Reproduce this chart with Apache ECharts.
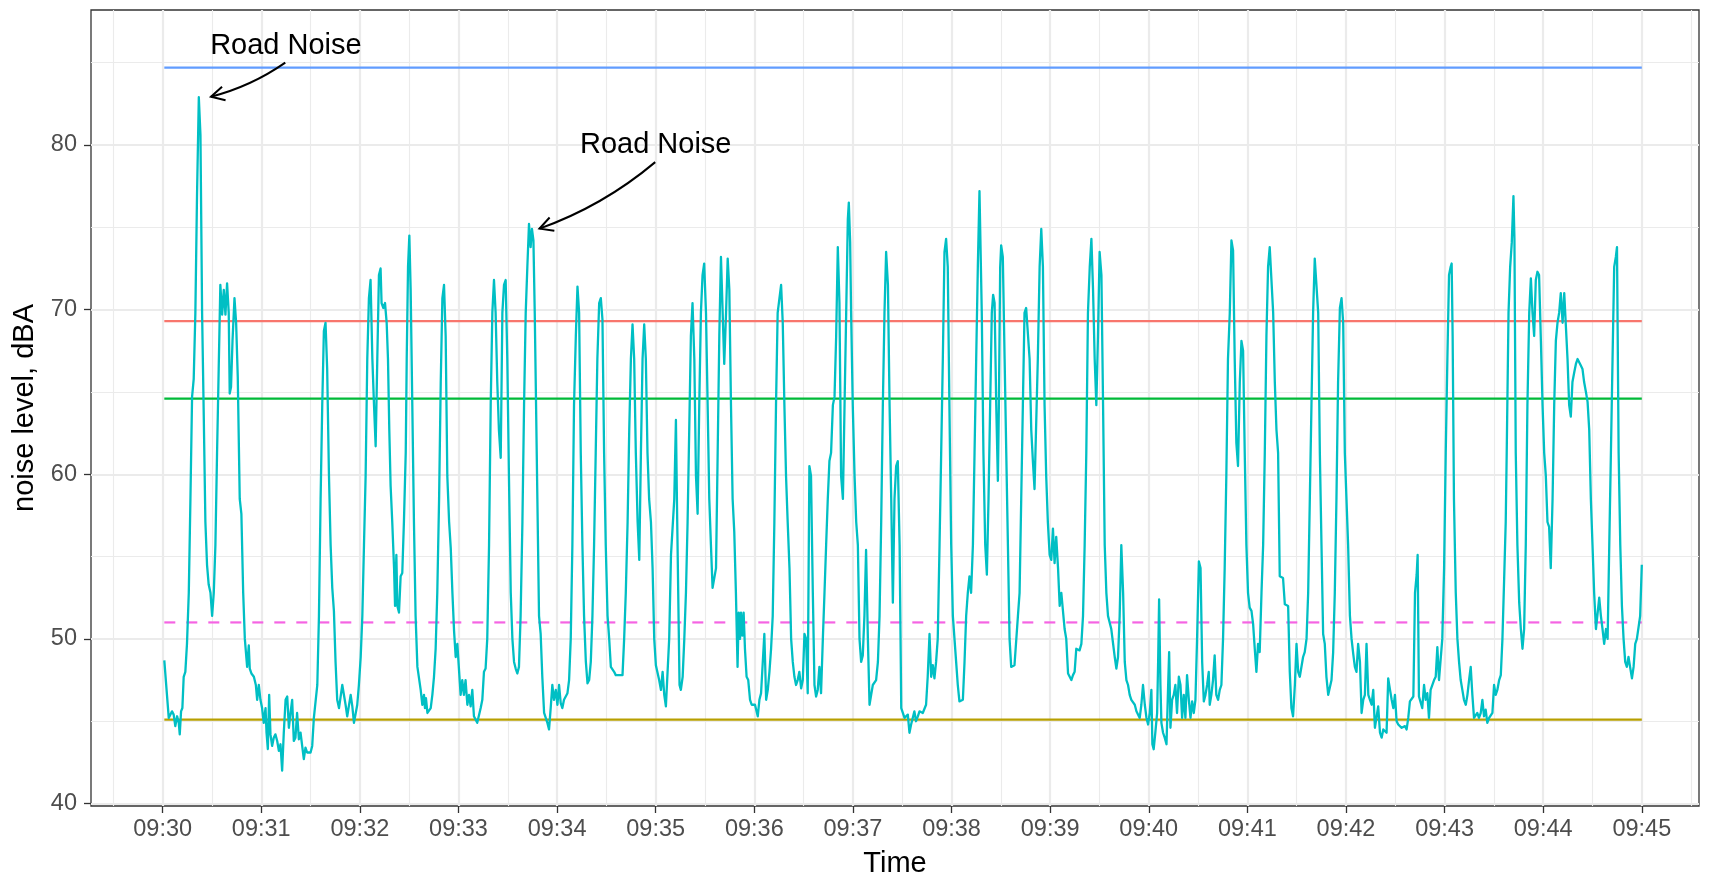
<!DOCTYPE html>
<html><head><meta charset="utf-8">
<script src="https://cdn.jsdelivr.net/npm/echarts@6/dist/echarts.min.js"></script>
<style>html,body{margin:0;padding:0;background:#fff}#c{width:1715px;height:875px}</style>
</head><body><div id="c"></div>
<script>
// seconds after 09:30:00
const secs = [1.0,3.7,4.7,5.7,6.7,7.7,8.8,9.8,10.4,11.2,12.0,12.8,13.8,14.8,15.9,16.9,17.9,18.9,19.9,20.9,22.0,23.0,24.0,25.0,26.0,27.0,28.0,29.1,30.1,31.1,32.1,33.1,34.1,35.1,36.2,37.2,38.2,39.2,40.2,40.8,41.6,42.5,43.7,44.7,45.7,46.9,47.9,49.0,50.0,51.4,52.4,53.0,54.0,55.5,56.7,57.5,58.5,59.5,60.5,61.5,62.6,63.2,64.0,64.8,65.6,66.6,67.6,68.6,69.7,70.7,71.7,72.7,73.7,74.8,75.8,76.8,77.8,78.8,79.8,80.8,81.8,82.9,83.9,84.9,85.9,86.9,87.9,88.9,90.0,91.0,92.0,93.0,94.1,95.1,96.1,97.1,98.1,99.1,100.1,101.2,102.2,103.2,104.2,105.2,106.2,107.3,108.3,109.3,110.3,111.3,112.3,113.3,114.4,115.4,116.4,117.4,118.4,119.4,120.5,121.5,122.5,123.5,124.5,125.5,126.5,127.6,128.6,129.6,130.6,131.6,132.6,133.2,134.3,135.3,136.3,137.1,137.9,138.7,139.7,140.8,141.4,142.2,142.8,143.8,144.8,145.8,146.8,147.9,148.5,149.3,150.1,150.9,151.9,152.9,153.9,155.0,156.0,157.0,158.0,159.0,159.6,160.2,161.1,162.1,163.1,164.1,165.1,166.1,167.1,168.2,169.2,170.2,171.2,172.2,173.2,174.3,175.3,176.3,177.3,178.3,179.3,180.3,181.3,182.3,183.3,184.3,185.4,186.4,187.4,188.4,189.4,190.4,191.4,192.4,193.5,194.5,195.5,196.5,197.5,198.6,199.6,200.6,201.6,202.6,203.6,204.6,205.7,206.7,207.7,208.7,209.7,210.7,211.8,212.8,213.8,214.8,215.8,216.8,217.8,218.9,219.9,220.9,221.9,222.9,223.9,224.7,225.6,226.4,227.2,228.0,229.0,230.0,231.0,232.1,233.1,234.1,235.1,236.1,237.1,238.1,239.2,240.2,241.2,242.2,243.2,244.2,245.2,246.3,247.3,248.3,249.3,250.3,251.4,252.4,253.4,254.4,255.4,256.4,257.5,258.5,259.5,260.5,261.5,262.5,263.5,264.5,265.6,266.6,267.6,268.6,269.6,270.7,271.7,272.7,273.7,274.7,275.7,276.8,277.8,278.8,279.8,280.8,281.8,282.9,283.9,284.9,285.9,286.9,287.9,289.0,290.0,291.0,292.0,293.0,294.0,295.0,296.0,297.1,298.1,299.1,300.1,301.1,302.1,303.2,304.2,305.2,306.2,307.2,308.2,309.3,310.3,311.3,312.3,312.9,313.7,314.5,315.3,316.4,317.4,318.4,319.4,320.4,321.4,322.4,323.5,324.5,325.5,326.5,327.5,328.5,329.5,330.6,331.6,332.6,333.6,334.6,335.6,336.7,337.7,338.7,339.7,340.7,341.7,342.8,343.8,344.8,345.8,346.8,347.8,348.8,349.8,350.5,351.3,351.9,352.7,353.5,354.3,355.3,356.3,357.4,358.4,359.4,360.4,361.0,362.1,363.1,364.1,365.1,366.1,367.2,368.2,369.2,370.2,371.2,372.2,373.2,374.2,375.3,376.3,377.3,378.3,379.3,380.3,381.4,382.4,383.4,384.4,385.4,386.4,387.4,388.5,389.5,390.5,391.5,392.5,393.5,394.5,395.6,396.6,397.6,398.6,399.6,400.6,401.7,402.7,403.7,404.7,405.7,406.7,407.8,408.8,409.8,410.8,411.8,412.8,413.9,414.9,415.9,416.9,417.5,418.3,418.9,419.9,421.0,422.0,423.0,424.0,425.0,426.0,427.0,428.0,429.1,430.1,431.1,432.1,433.1,434.1,435.2,436.2,437.2,438.2,439.2,440.2,441.3,442.3,443.3,444.3,445.3,446.3,447.3,448.4,449.4,450.4,451.4,452.4,453.4,454.4,455.4,456.4,457.4,458.4,459.5,460.5,461.5,462.5,463.5,464.5,465.5,466.6,467.6,468.6,469.6,470.6,471.6,472.7,473.7,474.7,475.7,476.7,477.7,478.7,479.8,480.8,481.8,482.8,483.8,484.8,485.9,486.9,487.9,488.9,489.9,490.9,491.9,493.0,494.0,495.0,496.0,497.0,497.6,498.4,499.4,500.5,501.5,502.5,503.5,504.5,505.3,506.2,507.2,508.2,508.8,509.6,510.2,511.2,512.3,513.3,514.3,515.3,516.3,517.3,518.3,519.4,520.4,521.4,522.4,523.4,524.4,525.4,526.5,527.5,528.5,529.5,530.5,531.5,532.5,533.6,534.6,535.6,536.6,537.6,538.6,539.7,540.7,541.7,542.7,543.7,544.8,545.8,546.8,547.8,548.8,549.8,550.9,551.9,552.9,553.9,554.9,555.9,556.9,557.9,559.0,560.0,561.0,562.0,563.0,564.1,565.1,566.1,567.1,568.1,569.1,570.1,571.2,572.2,573.2,574.2,575.2,576.2,577.2,578.2,579.3,580.3,581.3,582.3,583.3,584.4,585.4,586.4,587.4,588.4,589.4,590.5,591.5,592.5,593.5,594.5,595.5,596.5,597.6,598.6,599.6,600.6,601.6,602.2,603.0,604.0,605.1,605.7,606.3,607.1,607.7,608.7,609.7,610.8,611.8,612.4,613.2,614.2,615.2,616.2,617.2,618.3,619.3,620.3,621.3,622.3,623.3,624.4,625.4,626.4,627.4,628.4,629.4,630.5,631.5,632.5,633.5,634.5,635.5,636.5,637.1,638.1,639.1,640.1,641.1,642.2,643.2,644.2,645.2,646.2,647.2,648.2,649.3,650.3,651.3,652.3,653.3,654.3,655.4,656.4,657.4,658.4,659.4,660.4,661.4,662.5,663.5,664.5,665.5,666.5,667.5,668.6,669.6,670.6,671.6,672.6,673.6,674.7,675.7,676.7,677.7,678.7,679.7,680.7,681.7,682.8,683.8,684.8,685.8,686.8,687.8,688.9,689.9,690.9,691.9,692.9,693.9,694.9,696.0,697.0,698.0,699.0,700.0,701.0,702.1,703.1,704.1,705.1,706.1,707.1,708.1,709.2,710.2,711.2,712.2,713.2,714.2,715.2,716.3,717.3,718.3,719.3,720.3,721.3,722.4,723.4,724.4,725.4,726.4,727.4,728.5,729.5,730.5,731.5,732.5,733.6,734.6,735.6,736.6,737.6,738.6,739.6,740.7,741.7,742.7,743.7,744.7,745.7,746.8,747.8,748.8,749.8,750.8,751.8,752.8,753.9,754.9,755.9,756.9,757.9,758.9,759.9,761.0,762.0,763.0,763.6,764.4,765.4,766.4,767.5,768.5,769.5,770.5,771.5,772.5,773.6,774.6,775.6,776.6,777.6,778.6,779.7,780.7,781.7,782.7,783.7,784.3,784.9,785.7,786.8,787.8,788.8,789.8,790.8,791.8,792.9,793.9,794.9,795.9,796.9,797.9,798.9,799.9,800.9,802.0,803.0,804.0,805.0,806.0,807.1,808.1,809.1,810.1,811.1,812.1,813.2,814.2,815.2,816.2,817.2,817.8,818.9,819.9,820.9,821.9,822.5,823.3,824.3,825.4,826.4,827.4,828.4,829.4,830.4,831.5,832.5,833.5,834.5,835.5,836.5,837.5,838.6,839.6,840.6,841.6,842.6,843.6,844.6,845.7,846.7,847.7,848.7,849.7,850.7,851.8,852.8,853.8,854.8,855.8,856.8,857.8,858.9,859.9,860.9,861.9,862.9,863.9,864.9,866.0,867.0,868.0,869.0,870.0,871.0,872.1,873.1,874.1,875.1,876.1,877.1,878.2,879.2,880.2,881.2,882.2,883.2,884.2,884.9,885.9,886.9,887.9,888.9,889.9,890.9,891.9,892.9,894.0,895.0,896.0,897.0,898.1,899.0,900.0];
const dba = [48.7,45.2,45.3,45.6,45.4,44.7,45.3,44.9,44.2,45.6,45.8,47.7,48.0,49.7,52.8,58.5,64.7,65.8,69.8,76.9,82.9,80.6,69.8,63.6,57.1,54.5,53.3,52.8,51.4,52.8,55.7,61.3,66.4,71.5,69.7,71.2,69.7,71.6,69.8,64.9,65.3,68.1,70.7,69.2,65.9,58.5,57.6,52.8,50.0,48.3,49.6,48.2,47.9,47.7,47.2,46.3,47.2,46.3,45.8,44.9,45.8,44.3,43.3,46.6,44.2,43.5,44.0,44.2,43.8,43.2,43.6,42.0,44.3,46.3,46.5,44.6,45.5,46.3,43.8,44.0,45.5,43.9,44.3,44.2,42.7,43.4,43.1,43.2,43.1,43.5,45.2,45.3,47.2,51.4,58.5,64.2,68.7,69.2,66.4,59.9,55.7,53.1,51.7,48.6,46.3,45.8,45.9,47.2,47.3,46.0,45.3,45.4,46.6,45.9,44.9,44.8,46.0,47.2,48.9,51.4,55.7,59.9,67.0,70.7,71.8,67.0,64.2,61.7,67.0,72.1,72.5,70.4,70.1,70.4,69.2,67.0,62.7,59.3,57.1,54.3,52.0,55.1,52.0,51.6,53.8,54.0,57.1,61.3,67.0,72.6,74.5,71.2,64.2,57.1,51.4,48.3,48.2,46.9,46.0,46.6,45.8,46.4,45.5,45.6,45.8,46.6,47.7,49.4,52.8,58.5,65.6,70.7,71.5,68.4,59.9,57.1,55.5,52.8,50.5,48.9,49.7,49.7,46.6,47.5,46.6,47.5,46.0,46.6,45.9,46.9,45.3,45.3,44.9,45.0,45.8,46.3,48.0,48.2,50.0,55.7,64.2,69.8,71.8,69.8,65.6,62.7,61.0,69.8,71.5,71.8,67.0,59.9,52.8,50.0,48.6,48.2,47.9,48.3,51.4,57.1,64.2,69.8,72.6,75.2,73.8,74.9,74.2,69.8,64.2,58.5,51.4,50.3,47.7,45.5,45.4,44.9,44.5,45.8,47.2,46.3,46.9,46.0,47.2,46.1,45.8,46.3,46.4,46.7,47.5,50.0,55.7,64.2,68.4,71.4,69.8,61.3,55.7,51.4,48.6,47.3,47.5,48.6,51.4,55.7,61.3,67.0,70.4,70.7,69.4,61.3,55.7,51.4,50.0,48.3,48.2,48.0,47.8,47.7,47.8,47.7,47.8,50.0,52.8,57.1,62.7,67.0,69.1,67.0,61.3,57.1,54.8,61.3,67.0,69.1,67.0,61.3,58.5,57.1,54.3,50.0,48.4,48.3,47.5,46.9,48.0,46.6,45.9,45.9,50.0,55.1,55.2,58.5,63.3,58.5,52.8,47.2,46.9,47.7,50.0,52.8,57.1,62.7,68.4,70.4,67.0,59.9,57.6,64.2,69.8,72.1,72.8,69.8,64.2,58.5,55.7,53.1,53.1,54.3,61.3,68.4,73.2,73.1,66.7,69.8,73.1,71.2,64.2,58.5,56.5,52.8,48.3,51.6,50.0,51.6,50.2,51.6,49.4,47.7,47.5,46.3,46.0,45.9,46.0,45.9,45.3,46.3,46.7,46.6,50.3,46.3,46.9,48.0,49.4,51.4,57.1,64.2,69.8,70.7,71.5,69.2,64.2,59.9,57.1,54.3,50.0,48.6,47.7,47.2,47.5,48.0,47.0,47.5,50.3,50.0,46.7,60.5,59.9,52.8,47.2,46.5,46.9,48.3,46.7,50.0,52.8,55.7,58.5,60.8,61.3,64.2,64.7,68.4,73.8,70.4,59.9,58.5,64.2,69.8,75.5,76.5,74.1,69.8,64.2,59.9,57.1,55.7,50.0,48.6,49.0,51.4,55.4,50.0,46.0,46.6,47.2,47.2,47.5,48.6,51.4,57.1,64.2,69.8,73.5,71.5,64.2,58.5,52.2,58.5,60.5,60.8,55.7,45.8,45.7,45.2,45.1,45.4,44.3,44.8,44.9,45.6,45.0,45.3,45.6,45.5,45.5,45.6,46.0,47.7,50.3,47.7,48.4,47.6,48.6,50.0,55.7,61.3,67.0,73.5,74.3,72.6,64.2,55.7,51.4,50.0,48.6,47.2,46.2,46.2,46.3,48.6,51.4,52.8,53.8,52.8,55.7,61.3,67.0,72.6,77.2,77.2,69.8,61.3,55.7,53.9,58.5,64.2,69.8,70.9,70.4,64.2,59.6,64.2,72.6,73.9,73.2,67.0,61.3,55.7,50.0,48.3,48.2,48.4,48.3,51.4,52.8,58.5,64.2,69.8,70.1,70.2,67.0,62.7,60.8,59.1,59.1,67.0,72.6,74.9,72.6,64.2,59.9,57.1,55.1,54.8,56.7,54.6,56.2,54.3,52.0,52.8,52.7,50.6,50.0,47.9,47.8,47.5,47.8,48.0,49.4,49.4,49.3,49.7,51.4,55.7,61.3,69.8,72.6,74.3,71.2,67.0,64.2,68.4,73.5,72.1,64.2,55.7,52.8,51.4,51.0,50.6,50.5,48.9,48.2,48.9,51.4,55.7,52.8,48.6,47.5,47.2,46.6,46.3,46.2,46.0,45.6,45.5,45.2,46.0,47.2,46.0,45.2,44.8,45.5,46.9,43.6,43.3,44.3,45.5,48.6,52.4,47.2,44.9,44.3,44.0,43.6,47.2,49.2,44.6,46.3,46.6,47.2,45.5,47.7,47.2,45.2,46.6,45.2,47.8,46.3,45.2,46.2,45.5,46.3,50.0,54.7,54.3,48.6,46.2,46.6,47.2,48.0,46.0,46.6,47.5,49.0,46.6,46.3,46.9,47.2,50.0,54.3,59.9,67.0,69.8,74.2,73.6,67.0,61.9,60.5,65.6,68.1,67.5,61.3,55.7,52.8,51.9,51.7,50.9,49.4,48.0,49.7,49.2,52.8,55.7,61.3,68.4,72.6,73.8,73.9,69.8,65.6,62.7,61.3,53.8,53.8,53.7,52.1,52.0,52.0,48.0,45.8,45.3,47.2,49.7,48.0,47.7,47.8,48.9,49.2,50.0,52.8,58.5,64.2,69.8,73.1,73.0,69.8,61.3,55.7,50.3,49.7,47.7,46.6,46.6,47.5,49.2,52.8,58.5,65.6,70.1,70.7,69.2,61.3,58.5,55.7,51.4,50.0,49.1,48.3,48.0,49.7,48.6,45.5,46.3,46.6,49.7,46.6,46.3,46.0,46.9,44.6,44.5,45.9,44.3,44.0,44.5,44.5,44.3,47.6,46.9,46.3,45.8,46.6,45.0,44.8,44.9,44.6,44.7,44.7,44.5,45.2,46.2,46.3,46.5,52.8,53.9,55.1,46.5,46.5,45.8,47.2,46.3,46.7,45.2,46.9,46.9,47.5,47.7,49.5,47.5,47.5,50.0,54.3,61.3,67.0,72.1,72.6,72.8,68.4,58.5,52.8,50.0,48.6,47.5,46.9,46.3,46.0,46.6,47.5,48.3,46.6,45.2,45.1,45.5,45.2,45.5,46.3,45.3,45.7,44.9,45.2,45.2,45.5,47.2,46.6,46.9,47.5,47.8,50.0,53.5,57.1,61.3,69.8,72.6,74.1,76.9,74.3,61.3,55.7,52.2,50.6,49.4,50.6,55.7,64.2,69.8,71.9,69.8,68.4,71.8,72.3,72.1,68.1,64.2,61.3,59.9,57.1,56.8,54.3,58.5,64.2,68.1,69.2,69.8,71.0,69.2,71.0,70.9,67.0,64.2,63.5,65.6,66.2,66.7,67.0,67.1,66.6,66.4,65.6,65.0,64.4,62.7,58.5,55.7,52.8,50.6,50.5,52.5,51.4,50.6,49.7,50.6,50.0,55.7,61.3,67.0,72.6,73.2,73.8,61.3,55.7,52.0,50.0,48.6,48.3,48.9,48.8,47.6,48.3,49.7,50.0,50.0,51.4,54.5];

const tickSecs = [0,60,120,180,240,300,360,420,480,540,600,660,720,780,840,900];
const tickLabels = ["09:30","09:31","09:32","09:33","09:34","09:35","09:36","09:37","09:38","09:39","09:40","09:41","09:42","09:43","09:44","09:45"];
const minorSecs = [-30,30,90,150,210,270,330,390,450,510,570,630,690,750,810,870,930];
const yTicks = [40,50,60,70,80];
const yMinorTicks = [45,55,65,75,85];

const refLevels = [84.7, 69.3, 64.6, 51.0, 45.1];
const refColors = ['#619CFF','#F8766D','#00BA38','#F564E3','#B79F00'];
const refDashed = [false,false,false,true,false];
const refStartSec = 1, refEndSec = 900;

const annotLabels = ['Road Noise','Road Noise'];
const annotX = [75, 300];
const annotY = [86.0, 80.0];
const arrowFromX = [74.6, 299.7];
const arrowFromY = [85.0, 78.96];
const arrowToX = [29.4, 229.3];
const arrowToY = [82.93, 74.92];

const FONT = 'Liberation Sans';
const X_MIN = -43.6, X_MAX = 934.8, Y_MIN = 39.85, Y_MAX = 88.2;

const chart = echarts.init(document.getElementById('c'), null, {renderer:'canvas'});

const series = [];
refLevels.forEach((v,i)=>{
  series.push({
    type:'line', xAxisIndex:0, yAxisIndex:0, symbol:'none', silent:true, z:2,
    data:[[refStartSec, v],[refEndSec, v]],
    lineStyle:{color:refColors[i], width:2.2, type: refDashed[i] ? [11,11] : 'solid'}
  });
});
series.push({
  type:'line', xAxisIndex:0, yAxisIndex:0, symbol:'none', silent:true, z:3,
  data: secs.map((s,i)=>[s, dba[i]]),
  lineStyle:{color:'#00BFC4', width:2.3, join:'round'}
});
series.push({
  type:'custom', xAxisIndex:0, yAxisIndex:0, silent:true, z:5, clip:false,
  data: annotLabels.map((l,i)=>[annotX[i], annotY[i], arrowFromX[i], arrowFromY[i], arrowToX[i], arrowToY[i]]),
  renderItem: function(params, api){
    const i = params.dataIndex;
    const t = api.coord([api.value(0), api.value(1)]);
    const s = api.coord([api.value(2), api.value(3)]);
    const e = api.coord([api.value(4), api.value(5)]);
    const dx = e[0]-s[0], dy = e[1]-s[1];
    const k = 0.09;
    const cp = [(s[0]+e[0])/2 + k*dy, (s[1]+e[1])/2 - k*dx];
    const tx = e[0]-cp[0], ty = e[1]-cp[1];
    const tl = Math.hypot(tx,ty);
    const ux = tx/tl, uy = ty/tl;
    const L = 15, a = 28*Math.PI/180;
    const rot = (ang)=>[ -(ux*Math.cos(ang) - uy*Math.sin(ang))*L, -(ux*Math.sin(ang) + uy*Math.cos(ang))*L ];
    const p1 = rot(a), p2 = rot(-a);
    return {
      type:'group',
      children:[
        {type:'text', style:{text: annotLabels[i], x:t[0], y:t[1], fill:'#000', fontSize:29, fontFamily:FONT, align:'center', verticalAlign:'middle'}},
        {type:'bezierCurve', shape:{x1:s[0], y1:s[1], x2:e[0], y2:e[1], cpx1:cp[0], cpy1:cp[1]}, style:{stroke:'#000', lineWidth:2, fill:null}},
        {type:'polyline', shape:{points:[[e[0]+p1[0], e[1]+p1[1]], [e[0], e[1]], [e[0]+p2[0], e[1]+p2[1]]]}, style:{stroke:'#000', lineWidth:2, fill:null}}
      ]
    };
  }
});

const gridLine = '#EBEBEB';
const option = {
  animation:false,
  backgroundColor:'#fff',
  grid:{left:91, top:10, width:1608, height:796, show:true, borderColor:'#333333', borderWidth:1.3, backgroundColor:'transparent', containLabel:false, outerBoundsMode:'none'},
  xAxis:[
    {type:'value', min:X_MIN, max:X_MAX, position:'bottom',
     name:'Time', nameLocation:'middle', nameGap:43,
     nameTextStyle:{color:'#000', fontSize:29, fontFamily:FONT},
     axisLine:{show:false, onZero:false},
     axisTick:{show:true, length:7, customValues:tickSecs, lineStyle:{color:'#333333', width:1.3}},
     axisLabel:{show:true, customValues:tickSecs, margin:12, color:'#4D4D4D', fontSize:23.5, fontFamily:FONT,
       formatter:(v)=>{const k = tickSecs.indexOf(v); return k>=0 ? tickLabels[k] : '';}},
     splitLine:{show:true, lineStyle:{color:gridLine, width:2.2}}},
    {type:'value', min:X_MIN, max:X_MAX, position:'top',
     axisLine:{show:false, onZero:false}, axisTick:{show:false, customValues:minorSecs}, axisLabel:{show:false, customValues:minorSecs},
     splitLine:{show:true, lineStyle:{color:gridLine, width:1.1}}}
  ],
  yAxis:[
    {type:'value', min:Y_MIN, max:Y_MAX, position:'left',
     name:'noise level, dBA', nameLocation:'middle', nameGap:52, nameRotate:90,
     nameTextStyle:{color:'#000', fontSize:29, fontFamily:FONT},
     axisLine:{show:false, onZero:false},
     axisTick:{show:true, length:7, customValues:yTicks, lineStyle:{color:'#333333', width:1.3}},
     axisLabel:{show:true, customValues:yTicks, margin:14, color:'#4D4D4D', fontSize:23.5, fontFamily:FONT},
     splitLine:{show:true, lineStyle:{color:gridLine, width:2.2}}},
    {type:'value', min:Y_MIN, max:Y_MAX, position:'right',
     axisLine:{show:false, onZero:false}, axisTick:{show:false, customValues:yMinorTicks}, axisLabel:{show:false, customValues:yMinorTicks},
     splitLine:{show:true, lineStyle:{color:gridLine, width:1.1}}}
  ],
  series: series
};
chart.setOption(option);
</script>
</body></html>
